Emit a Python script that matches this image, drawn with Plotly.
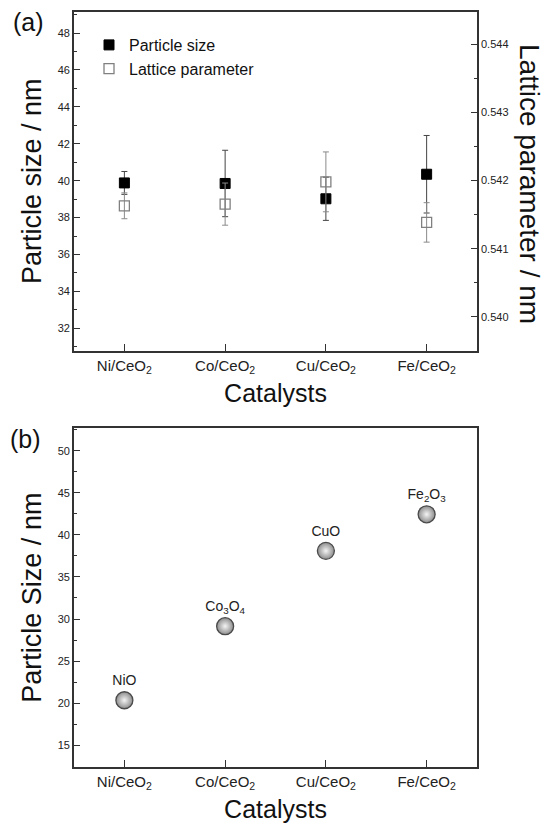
import plotly.graph_objects as go

# ---------------- data ----------------
categories = ["Ni/CeO<sub>2</sub>", "Co/CeO<sub>2</sub>", "Cu/CeO<sub>2</sub>", "Fe/CeO<sub>2</sub>"]
cat_pos = [0, 1, 2, 3]

particle_size = [39.88, 39.85, 39.02, 40.35]
particle_size_err = [0.62, 1.80, 1.17, 2.10]

lattice_param = [0.54163, 0.541655, 0.541982, 0.541386]
lattice_param_err = [0.00019, 0.00031, 0.00044, 0.00029]

oxide_size = [20.35, 29.15, 38.10, 42.44]
oxide_labels = ["NiO", "Co<sub>3</sub>O<sub>4</sub>", "CuO", "Fe<sub>2</sub>O<sub>3</sub>"]

# ---------------- layout geometry ----------------
W, H = 549, 825
ML, MR, MT, MB = 74, 72, 12, 58
PW, PH = W - ML - MR, H - MT - MB


def py(ypx):
    return (H - MB - ypx) / PH


def px(xpx):
    return (xpx - ML) / PW


FONT = "Liberation Sans, Arial, sans-serif"
AX = "#333333"

fig = go.Figure()

fig.add_trace(go.Scatter(
    x=cat_pos, y=particle_size, mode="markers", name="Particle size",
    marker=dict(symbol="square", size=10, color="black", line=dict(color="black", width=1)),
    error_y=dict(type="data", array=particle_size_err, visible=True, color="#444444",
                 thickness=1, width=3),
    xaxis="x", yaxis="y",
))
fig.add_trace(go.Scatter(
    x=cat_pos, y=lattice_param, mode="markers", name="Lattice parameter",
    marker=dict(symbol="square-open", size=10, color="#808080", line=dict(color="#808080", width=1.3)),
    error_y=dict(type="data", array=lattice_param_err, visible=True, color="#8a8a8a",
                 thickness=1, width=3),
    xaxis="x", yaxis="y2",
))
fig.add_trace(go.Scatter(
    x=cat_pos, y=oxide_size, mode="markers+text", text=oxide_labels,
    textposition="top center", textfont=dict(size=14, color="#222222", family=FONT),
    marker=dict(symbol="circle", size=17, color="#8c8c8c",
                gradient=dict(type="radial", color="#f4f4f4"),
                line=dict(color="#4a4a4a", width=1.3)),
    showlegend=False, xaxis="x2", yaxis="y3",
))

common_x = dict(
    range=[-0.5, 3.5], tickmode="array", tickvals=cat_pos, ticktext=categories,
    ticks="inside", ticklen=7, tickwidth=1.3, tickcolor=AX,
    showline=True, linecolor=AX, linewidth=1.6, mirror=True,
    showgrid=False, zeroline=False,
    tickfont=dict(size=15, color="#222222", family=FONT),
    title=dict(text="Catalysts", font=dict(size=25, color="#111111", family=FONT), standoff=10),
)

fig.update_layout(
    width=W, height=H,
    margin=dict(l=ML, r=MR, t=MT, b=MB, autoexpand=False),
    paper_bgcolor="white", plot_bgcolor="white",
    font=dict(family=FONT, color="#222222"),
    xaxis=dict(domain=[0, 1], anchor="y", **common_x),
    yaxis=dict(
        domain=[py(350.7), 1], anchor="x", range=[30.79, 49.14],
        tick0=32, dtick=2, ticks="inside", ticklen=6, tickwidth=1.3, tickcolor=AX,
        minor=dict(ticks="inside", ticklen=3, dtick=1, tick0=31, tickcolor=AX, tickwidth=1),
        showline=True, linecolor=AX, linewidth=1.6, showgrid=False, zeroline=False,
        tickfont=dict(size=11, color="#222222", family=FONT),
        title=dict(text="Particle size / nm", font=dict(size=27, color="#111111", family=FONT), standoff=8),
    ),
    yaxis2=dict(
        overlaying="y", side="right", anchor="x", range=[0.5395, 0.544479],
        tick0=0.540, dtick=0.001, tickformat=".3f",
        ticks="inside", ticklen=6, tickwidth=1.3, tickcolor=AX,
        minor=dict(ticks="inside", ticklen=3, dtick=0.0005, tick0=0.5395, tickcolor=AX, tickwidth=1),
        showline=True, linecolor=AX, linewidth=1.6, showgrid=False, zeroline=False,
        tickfont=dict(size=11, color="#222222", family=FONT),
    ),
    xaxis2=dict(domain=[0, 1], anchor="y3", **common_x),
    yaxis3=dict(
        domain=[0, py(428.3)], anchor="x2", range=[12.42, 52.66],
        tick0=15, dtick=5, ticks="inside", ticklen=6, tickwidth=1.3, tickcolor=AX,
        minor=dict(ticks="inside", ticklen=3, dtick=2.5, tick0=12.5, tickcolor=AX, tickwidth=1),
        showline=True, linecolor=AX, linewidth=1.6, mirror=True, showgrid=False, zeroline=False,
        tickfont=dict(size=11, color="#222222", family=FONT),
        title=dict(text="Particle Size / nm", font=dict(size=27, color="#111111", family=FONT), standoff=8),
    ),
    legend=dict(
        x=px(89), y=py(28), xanchor="left", yanchor="top",
        bgcolor="rgba(0,0,0,0)", borderwidth=0,
        font=dict(size=16, color="#111111", family=FONT),
        tracegroupgap=0,
    ),
    showlegend=True,
    annotations=[
        dict(text="Lattice parameter / nm", x=px(530), y=py(184), xref="paper", yref="paper",
             textangle=90, showarrow=False, xanchor="center", yanchor="middle",
             font=dict(size=28, color="#111111", family=FONT)),
        dict(text="(a)", x=px(28), y=py(21.7), xref="paper", yref="paper",
             showarrow=False, xanchor="center", yanchor="middle",
             font=dict(size=25, color="#111111", family=FONT)),
        dict(text="(b)", x=px(25), y=py(439.3), xref="paper", yref="paper",
             showarrow=False, xanchor="center", yanchor="middle",
             font=dict(size=25, color="#111111", family=FONT)),
    ],
)

fig.write_html("out.html")
